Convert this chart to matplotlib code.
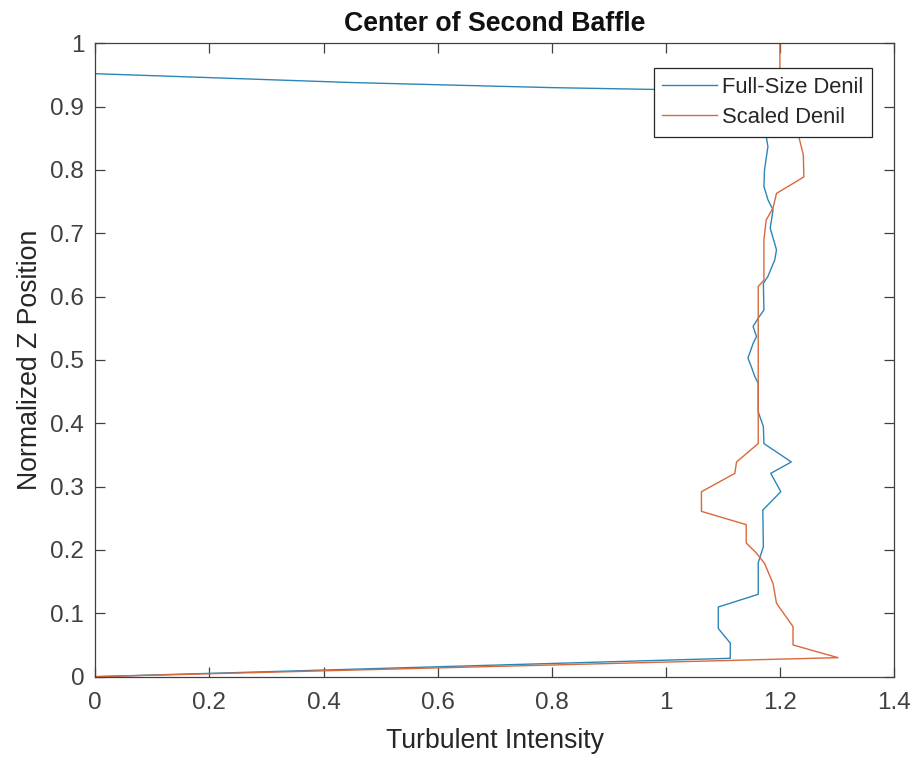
import matplotlib
matplotlib.use("Agg")
import matplotlib.pyplot as plt

# Data: Full-Size Denil (blue)
z_full = [0, 0.029, 0.053, 0.076, 0.11, 0.13, 0.18, 0.205, 0.263, 0.292, 0.321, 0.339,
          0.368, 0.395, 0.418, 0.463, 0.474, 0.489, 0.503, 0.526, 0.537, 0.553, 0.566,
          0.579, 0.621, 0.632, 0.658, 0.674, 0.708, 0.737, 0.753, 0.774, 0.80, 0.837,
          0.853, 0.88, 0.92, 0.926, 0.93, 0.938, 0.952, 1.0]
ti_full = [0, 1.113, 1.113, 1.092, 1.092, 1.162, 1.162, 1.171, 1.17, 1.2016, 1.184, 1.220,
           1.172, 1.171, 1.162, 1.162, 1.156, 1.150, 1.144, 1.153, 1.159, 1.153, 1.162,
           1.172, 1.171, 1.179, 1.191, 1.194, 1.183, 1.188, 1.179, 1.172, 1.173, 1.179,
           1.176, 1.178, 1.17, 1.05, 0.8, 0.45, 0, 0]

# Data: Scaled Denil (orange)
z_scaled = [0, 0.030, 0.05, 0.079, 0.116, 0.147, 0.179, 0.195, 0.211, 0.240, 0.261, 0.292,
            0.321, 0.339, 0.368, 0.616, 0.626, 0.690, 0.721, 0.740, 0.763, 0.789, 0.824,
            0.853, 0.90, 1.0]
ti_scaled = [0, 1.302, 1.223, 1.223, 1.194, 1.188, 1.173, 1.159, 1.141, 1.141, 1.0625, 1.0625,
             1.121, 1.124, 1.162, 1.162, 1.172, 1.172, 1.176, 1.188, 1.194, 1.242, 1.241,
             1.233, 1.2, 1.2]

x_ticks = [0, 0.2, 0.4, 0.6, 0.8, 1, 1.2, 1.4]
x_tick_labels = ["0", "0.2", "0.4", "0.6", "0.8", "1", "1.2", "1.4"]
y_ticks = [0, 0.1, 0.2, 0.3, 0.4, 0.5, 0.6, 0.7, 0.8, 0.9, 1]
y_tick_labels = ["0", "0.1", "0.2", "0.3", "0.4", "0.5", "0.6", "0.7", "0.8", "0.9", "1"]

plt.rcParams['font.family'] = ['Liberation Sans', 'DejaVu Sans']

fig = plt.figure(figsize=(9.19, 7.58), dpi=100)
ax = fig.add_axes([0.1037, 0.1073, 0.8691, 0.8356])

ax.plot(ti_full, z_full, color='#2B86B8', lw=1.0, label='Full-Size Denil')
ax.plot(ti_scaled, z_scaled, color='#D9683A', lw=1.0, label='Scaled Denil')

ax.set_xlim(0, 1.4)
ax.set_ylim(0, 1)
ax.set_xticks(x_ticks)
ax.set_xticklabels(x_tick_labels)
ax.set_yticks(y_ticks)
ax.set_yticklabels(y_tick_labels)

axcol = '#404040'
for s in ax.spines.values():
    s.set_color(axcol)
    s.set_linewidth(0.9)
ax.tick_params(direction='in', length=7, width=0.9, colors=axcol, labelsize=17.5,
               top=True, right=True)
ax.tick_params(axis='x', pad=11)
ax.tick_params(axis='y', pad=8)

ax.set_xlabel('Turbulent Intensity', fontsize=19.2, color='#262626', labelpad=10)
ax.set_ylabel('Normalized Z Position', fontsize=19.2, color='#262626', labelpad=5)
ax.set_title('Center of Second Baffle', fontsize=19.2, fontweight='bold', color='#111111', pad=9)

leg = ax.legend(loc='upper right', bbox_to_anchor=(0.972, 0.961), fontsize=15.8,
                frameon=True, fancybox=False, framealpha=1, edgecolor='#262626',
                borderpad=0.4, handlelength=2.5, handletextpad=0.2, labelspacing=0.42,
                borderaxespad=0)
leg.get_frame().set_linewidth(0.9)
for t in leg.get_texts():
    t.set_color('#262626')

fig.savefig('out.png', dpi=100)
